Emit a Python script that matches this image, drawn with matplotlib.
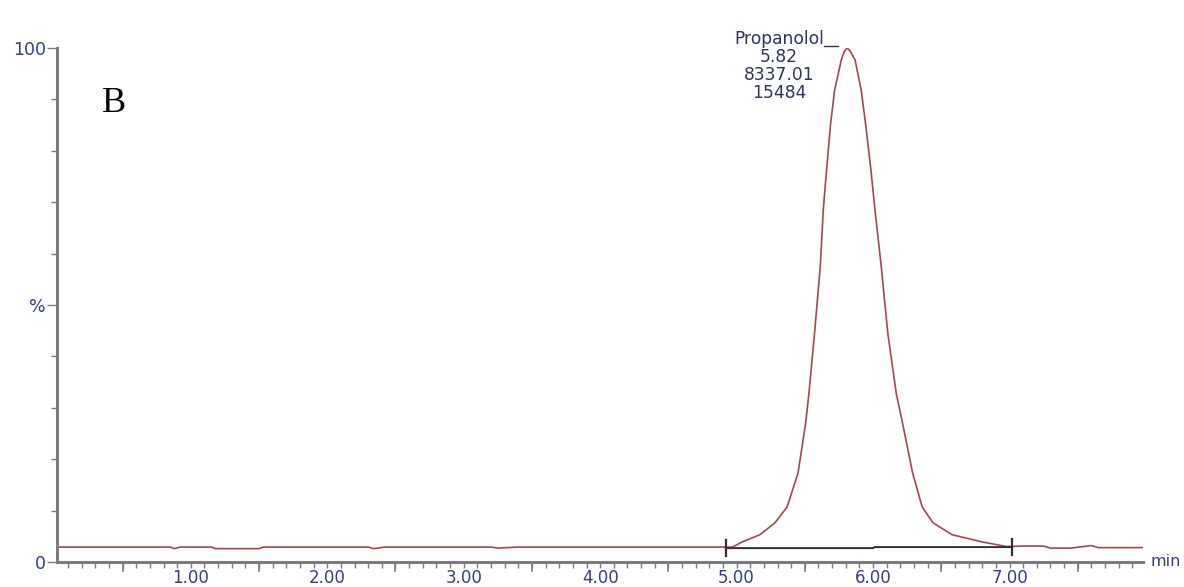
"""
Chromatogram B - Propanolol peak (MassLynx style trace)
"""

import matplotlib

matplotlib.use("Agg")
import matplotlib.pyplot as plt
from matplotlib.ticker import MultipleLocator, FixedLocator

# Retention time (min) and relative intensity (%)
time_min = [
    0.02, 0.85, 0.88, 0.92, 1.15, 1.18, 1.50, 1.53, 2.30, 2.34, 2.42, 3.20,
    3.25, 3.40, 4.20, 4.50, 4.97, 5.04, 5.17, 5.28, 5.37, 5.45, 5.506, 5.53,
    5.571, 5.613, 5.635, 5.657, 5.689, 5.718, 5.767, 5.79, 5.81, 5.83, 5.868,
    5.913, 5.945, 5.987, 6.012, 6.06, 6.108, 6.17, 6.216, 6.29, 6.36, 6.44,
    6.58, 6.80, 6.98, 7.10, 7.25, 7.30, 7.45, 7.60, 7.65, 7.98,
]
intensity = [
    2.9, 2.9, 2.6, 2.9, 2.9, 2.6, 2.6, 2.9, 2.9, 2.6, 2.9, 2.9,
    2.7, 2.9, 2.9, 2.9, 2.9, 3.9, 5.3, 7.6, 10.7, 17.3, 27.0, 32.8,
    44.5, 57.5, 68.5, 75.6, 85.3, 91.8, 97.7, 99.4, 100.0, 99.5, 97.7,
    91.8, 85.3, 75.6, 69.0, 57.5, 44.5, 32.8, 27.0, 17.3, 10.7, 7.6,
    5.3, 3.9, 3.0, 3.1, 3.1, 2.7, 2.7, 3.2, 2.8, 2.8,
]

# Integration baseline (start / end markers)
base_x = [4.92, 6.00, 6.01, 7.02]
base_y = [2.7, 2.7, 2.9, 2.9]

peak_label = ["Propanolol", "5.82", "8337.01", "15484"]
x_tick_labels = ["1.00", "2.00", "3.00", "4.00", "5.00", "6.00", "7.00"]

AXIS_GREY = "#7c7c7c"
LABEL_BLUE = "#343c8c"
TEXT_NAVY = "#2f3560"
TRACE = "#a8464c"

plt.rcParams["font.family"] = ["DejaVu Sans"]

fig = plt.figure(figsize=(11.84, 5.87), dpi=100)
ax = fig.add_axes([0.048, 0.0426, 0.917, 0.8755])

ax.plot(time_min, intensity, color=TRACE, lw=1.2)
ax.plot(base_x, base_y, color="#303030", lw=1.4)
for xm, ym in [(base_x[0], base_y[0]), (base_x[-1], base_y[-1])]:
    ax.plot([xm, xm], [ym - 1.6, ym + 1.6], color="#303030", lw=1.6)

ax.set_xlim(0.018, 7.975)
ax.set_ylim(0, 100)

# spines: only left and bottom, grey and thick
for side in ["top", "right"]:
    ax.spines[side].set_visible(False)
for side in ["left", "bottom"]:
    ax.spines[side].set_color(AXIS_GREY)
    ax.spines[side].set_linewidth(2.2)

# x ticks: labels on whole minutes, longer marks at half minutes
ax.xaxis.set_major_locator(FixedLocator([1, 2, 3, 4, 5, 6, 7]))
ax.set_xticklabels(x_tick_labels)
ax.xaxis.set_minor_locator(MultipleLocator(0.1))
ax.tick_params(axis="x", which="major", length=4, width=1, color=AXIS_GREY,
               labelsize=12, labelcolor=LABEL_BLUE, pad=1)
ax.tick_params(axis="x", which="minor", length=4, width=1, color=AXIS_GREY)
for xh in [0.5, 1.5, 2.5, 3.5, 4.5, 5.5, 6.5, 7.5]:
    ax.plot([xh, xh], [0, -1.8], color=AXIS_GREY, lw=1.2, clip_on=False)

# y ticks: 0, % and 100 labelled, small marks every 10
ax.yaxis.set_major_locator(FixedLocator([0, 50, 100]))
ax.set_yticklabels(["0", "%", "100"])
ax.yaxis.set_minor_locator(MultipleLocator(10))
ax.tick_params(axis="y", which="major", length=7, width=1, color=AXIS_GREY,
               labelsize=12.5, labelcolor=LABEL_BLUE, pad=1)
ax.tick_params(axis="y", which="minor", length=4, width=1, color=AXIS_GREY)

ax.text(8.03, 0, "min", color=LABEL_BLUE, fontsize=11.5, va="center",
        ha="left", clip_on=False)

# panel letter
ax.text(0.35, 89.3, "B", family=["Liberation Serif", "DejaVu Serif"],
        fontsize=26, color="black", va="center", ha="left")

# peak annotation
line_gap = 3.5
for i, txt in enumerate(peak_label):
    ax.text(5.31, 101.8 - i * line_gap, txt, color=TEXT_NAVY, fontsize=12.3,
            ha="center", va="center", clip_on=False)
ax.plot([5.64, 5.74], [100.5, 100.5], color=TEXT_NAVY, lw=1, clip_on=False)

fig.savefig("out.png", dpi=100, facecolor="white")
